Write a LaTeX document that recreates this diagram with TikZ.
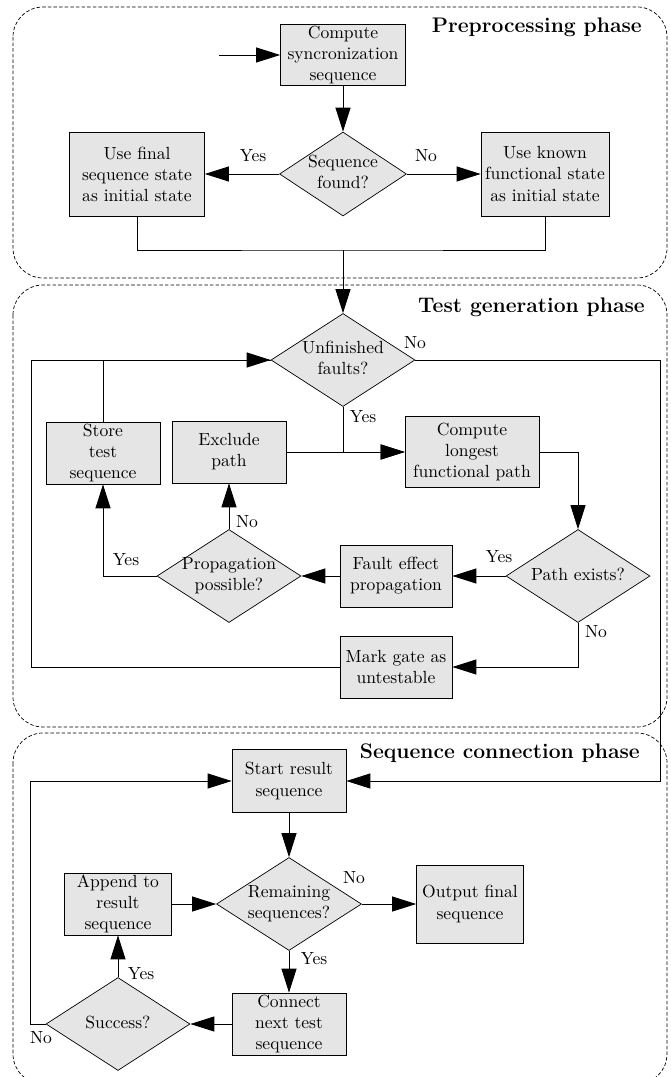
\documentclass[tikz,border=0pt]{standalone}
\usepackage{tikz}
\usetikzlibrary{arrows.meta, shapes.geometric}
\tikzset{
    box/.style={rectangle, draw=black, fill=gray!20, align=center, inner sep=1pt, minimum width=2.28cm, minimum height=1.24cm},
    cond/.style={diamond, draw=black, fill=gray!20, inner sep=0pt, minimum width=2.88cm, minimum height=1.86cm},
    flow/.style={line width=0.5pt},
    trans/.style={flow, -{Triangle[length=0.48cm, width=0.3cm]}},
    phase/.style={draw=black, line width=0.4pt, dash pattern=on 2pt off 1.2pt, rounded corners=0.6cm},
    title/.style={font=\large\bfseries, anchor=east},
    lab/.style={inner sep=1pt}
}
\newcommand{\dtxt}[1]{\makebox[0pt]{\begin{tabular}{@{}c@{}}#1\end{tabular}}}

\begin{document}
\begin{tikzpicture}[x=0.02cm, y=-0.02cm]
    \useasboundingbox (0,0) rectangle (671,1077);
    % phases
    \draw[phase] (13,7) rectangle (667,278);
    \draw[phase] (13,285) rectangle (667,727);
    \draw[phase] (13,733) rectangle (667,1084);
    \node[title] (pre) at (648,27) {Preprocessing phase};
    \node[title] (gen) at (651,307) {Test generation phase};
    \node[title] (con) at (646,753) {Sequence connection phase};

    % preprocessing
    \node[box, minimum width=2.5cm, minimum height=1.22cm] (sync) at (343,55) {Compute\\syncronization\\sequence};
    \node[cond, minimum width=2.54cm, minimum height=1.68cm] (found) at (343,174) {\dtxt{Sequence\\found?}};
    \node[box, minimum width=2.7cm, minimum height=1.68cm] (usefin) at (137,174) {Use final\\sequence state\\as initial state};
    \node[box, minimum width=2.56cm, minimum height=1.68cm] (useknw) at (545,174) {Use known\\functional state\\as initial state};
    \coordinate (entry) at (219,55);
    \coordinate (merge) at (343,250);

    % test generation
    \node[cond] (unfin) at (343,360) {\dtxt{Unfinished\\faults?}};
    \node[box] (store) at (103,453) {Store\\test\\sequence};
    \node[box] (excl) at (229,452) {Exclude\\path};
    \node[box, minimum width=2.68cm, minimum height=1.42cm] (longest) at (472,452) {Compute\\longest\\functional path};
    \node[cond] (exists) at (578,576) {\dtxt{Path exists?}};
    \node[box, minimum width=2.24cm] (effect) at (396,576) {Fault effect\\propagation};
    \node[cond] (possible) at (229,576) {\dtxt{Propagation\\possible?}};
    \node[box, minimum width=2.24cm] (untest) at (396,667) {Mark gate as\\untestable};
    \coordinate (loopl) at (31,360);
    \coordinate (loopr) at (660,360);

    % sequence connection
    \node[box, minimum height=1.26cm] (startres) at (289,781) {Start result\\sequence};
    \node[cond, minimum width=2.9cm] (remain) at (289,904) {\dtxt{Remaining\\sequences?}};
    \node[box, minimum width=2.14cm, minimum height=1.56cm] (output) at (470,904) {Output final\\sequence};
    \node[box, minimum width=2.14cm] (append) at (118,904) {Append to\\result\\sequence};
    \node[box] (connect) at (289,1024) {Connect\\next test\\sequence};
    \node[cond] (success) at (118,1024) {\dtxt{Success?}};
    \coordinate (loopb) at (30,1024);

    % connectors
    \draw[trans] (entry) -- (sync);
    \draw[trans] (sync) -- (found);
    \draw[trans] (found) -- (usefin);
    \draw[trans] (found) -- (useknw);
    \draw[flow] (usefin) |- (merge) -| (useknw);
    \draw[trans] (merge) -- (unfin);

    \draw[trans] (unfin.east) -- (loopr) |- (startres.east);
    \draw[trans] (unfin) |- (longest);
    \draw[trans] (excl) -- (longest);
    \draw[trans] (longest) -| (exists);
    \draw[trans] (exists) -- (effect);
    \draw[trans] (effect) -- (possible);
    \draw[trans] (possible) -- (excl);
    \draw[trans] (possible) -| (store);
    \draw[trans] (exists) |- (untest);
    \draw[trans] (untest) -| (loopl) -- (unfin);
    \draw[flow] (store) |- (unfin.west);

    \draw[trans] (startres) -- (remain);
    \draw[trans] (remain) -- (output);
    \draw[trans] (remain) -- (connect);
    \draw[trans] (connect) -- (success);
    \draw[trans] (success) -- (append);
    \draw[trans] (append) -- (remain);
    \draw[trans] (success) -- (loopb) |- (startres);

    % labels
    \node[lab] (y1) at (253,156) {Yes};
    \node[lab] (n1) at (426,156) {No};
    \node[lab] (n2) at (415,343) {No};
    \node[lab] (y2) at (363,417) {Yes};
    \node[lab] (y3) at (499,557) {Yes};
    \node[lab] (y4) at (126,560) {Yes};
    \node[lab] (n3) at (247,522) {No};
    \node[lab] (n4) at (596,632) {No};
    \node[lab] (n5) at (354,878) {No};
    \node[lab] (y5) at (314,959) {Yes};
    \node[lab] (y6) at (141,974) {Yes};
    \node[lab] (n6) at (41,1038) {No};
\end{tikzpicture}
\end{document}
